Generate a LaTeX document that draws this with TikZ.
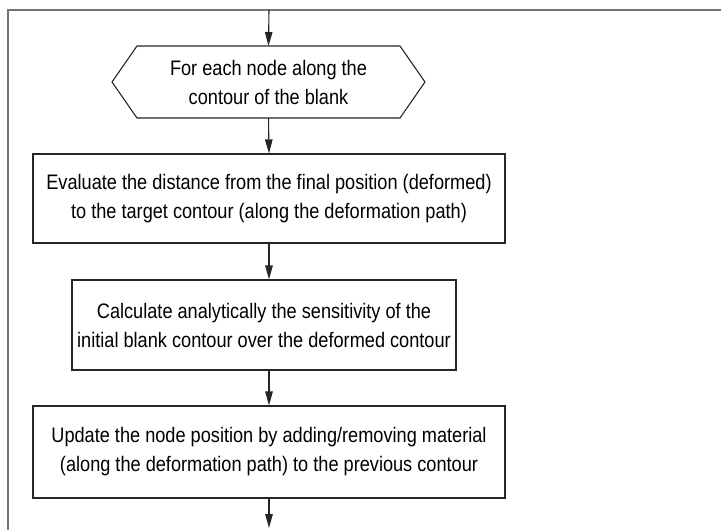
\documentclass[tikz,border=0pt]{standalone}
\usepackage{fontspec}
\setmainfont{Liberation Sans}[FakeStretch=0.865]
\usetikzlibrary{arrows.meta,calc}

\tikzset{
  box/.style={draw=black!85, line width=1.1pt, fill=white, align=center,
    inner sep=0pt, font=\fontsize{21}{29}\selectfont},
  label/.style={align=center, inner sep=0pt, font=\fontsize{21}{29}\selectfont},
  arr/.style={draw=black!85, line width=1.1pt, -{Triangle[length=14pt,width=7.5pt]}},
  frame/.style={draw=black!55, line width=1.6pt},
}

\begin{document}
\begin{tikzpicture}[x=1pt,y=-1pt]
  \useasboundingbox (0,0) rectangle (721,530);

  % loop frame (open towards right and bottom)
  \coordinate (fTR) at (723,10);
  \coordinate (fTL) at (8,10);
  \coordinate (fBL) at (8,532);
  \coordinate (inTop) at (269,10);
  \draw[frame] (fTR) -- (fTL) -- (fBL);

  % loop header (hexagon)
  \coordinate (hN) at (268.5,46);
  \coordinate (hS) at (268.5,118);
  \draw[draw=black!85, line width=1.1pt, fill=white]
    (137,46) -- (400,46) -- (425,82) -- (400,118) -- (137,118) -- (112,82) -- cycle;
  \node[label] (hex) at (268.5,82) {For each node along the\\contour of the blank};

  % steps
  \node[box, minimum width=472pt, minimum height=89pt] (b1) at (269,198.5)
    {Evaluate the distance from the final position (deformed)\\to the target contour (along the deformation path)};
  \node[box, minimum width=384pt, minimum height=90pt] (b2) at (264,325)
    {Calculate analytically the sensitivity of the\\initial blank contour over the deformed contour};
  \node[box, minimum width=472pt, minimum height=92pt] (b3) at (269,452)
    {Update the node position by adding/removing material\\(along the deformation path) to the previous contour};

  \coordinate (outEnd) at (269,528);

  % connectors
  \draw[arr] (inTop) -- (hN);
  \draw[arr] (hS) -- (b1.north);
  \draw[arr] (b1.south) -- (b1.south |- b2.north);
  \draw[arr] (b1.south |- b2.south) -- (b3.north);
  \draw[arr] (b3.south) -- (outEnd);
\end{tikzpicture}
\end{document}
